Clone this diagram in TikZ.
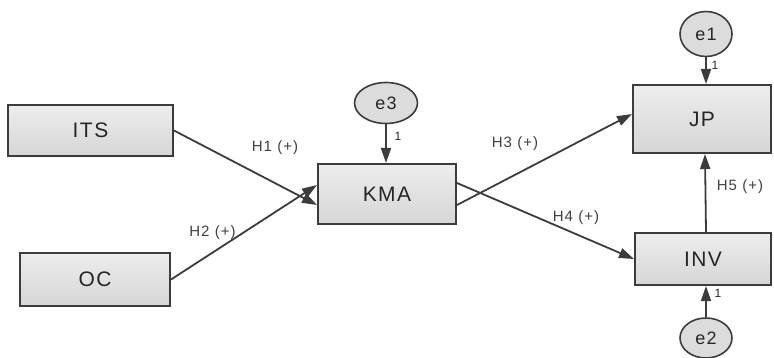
\documentclass[tikz,border=0pt]{standalone}
\usepackage{fontspec}
\setmainfont{Liberation Sans}
\newfontfamily\widefont[LetterSpace=7]{Liberation Sans}
\usetikzlibrary{arrows.meta,shapes.geometric}
\definecolor{edgegray}{HTML}{3C3C3C}
\definecolor{boxtop}{HTML}{EDEDED}
\definecolor{boxbot}{HTML}{D6D6D6}
\tikzset{
  varbox/.style={draw=edgegray, line width=2pt, top color=boxtop, bottom color=boxbot,
    minimum width=#1, inner sep=0pt, font=\widefont\fontsize{21}{21}\selectfont, text=black!85},
  errnode/.style={draw=edgegray, line width=1.6pt, ellipse, fill=boxbot!85, inner sep=0pt,
    font=\widefont\fontsize{18}{18}\selectfont, text=black!85},
  path/.style={draw=edgegray, line width=1.8pt, -{Triangle[length=15pt,width=10pt]}},
  hlab/.style={font=\widefont\fontsize{15}{15}\selectfont, text=black!75, inner sep=0pt},
  onelab/.style={font=\fontsize{12}{12}\selectfont, text=black!85, inner sep=0pt}
}
\begin{document}
\begin{tikzpicture}[x=1pt,y=-1pt]
\useasboundingbox (0,0) rectangle (774,358);
\node[varbox=165pt, minimum height=51pt] (ITS) at (90.5,130.5) {ITS};
\node[varbox=150pt, minimum height=53pt] (OC) at (95,279.5) {OC};
\node[varbox=138pt, minimum height=60pt] (KMA) at (387,194) {KMA};
\node[varbox=138pt, minimum height=68pt] (JP) at (702,119) {JP};
\node[varbox=136pt, minimum height=52pt] (INV) at (703,259) {INV};
\node[errnode, minimum width=52pt, minimum height=45pt] (e1) at (706,34) {e1};
\node[errnode, minimum width=63pt, minimum height=41pt] (e3) at (386,103) {e3};
\node[errnode, minimum width=52pt, minimum height=40pt] (e2) at (706,338) {e2};

\draw[path] (ITS.east) -- ([yshift=-11pt]KMA.west);
\draw[path] (OC.east) -- ([yshift=9pt]KMA.west);
\draw[path] ([yshift=-11pt]KMA.east) -- ([yshift=5pt]JP.west);
\draw[path] ([yshift=11pt]KMA.east) -- (INV.west);
\draw[path] ([xshift=3pt]INV.north) -- ([xshift=3pt]JP.south);
\draw[path] (e1.south) -- ([xshift=4pt]JP.north);
\draw[path] (e3.south) -- ([xshift=-1pt]KMA.north);
\draw[path] (e2.north) -- ([xshift=3pt]INV.south);

\node[hlab] (h1) at (275,147.5) {H1 (+)};
\node[hlab] (h2) at (212.5,233) {H2 (+)};
\node[hlab] (h3) at (515,143.5) {H3 (+)};
\node[hlab] (h4) at (576,218) {H4 (+)};
\node[hlab] (h5) at (740,187) {H5 (+)};
\node[onelab] (o3) at (398,136) {1};
\node[onelab] (o1) at (715,65) {1};
\node[onelab] (o2) at (718,293) {1};
\end{tikzpicture}
\end{document}
